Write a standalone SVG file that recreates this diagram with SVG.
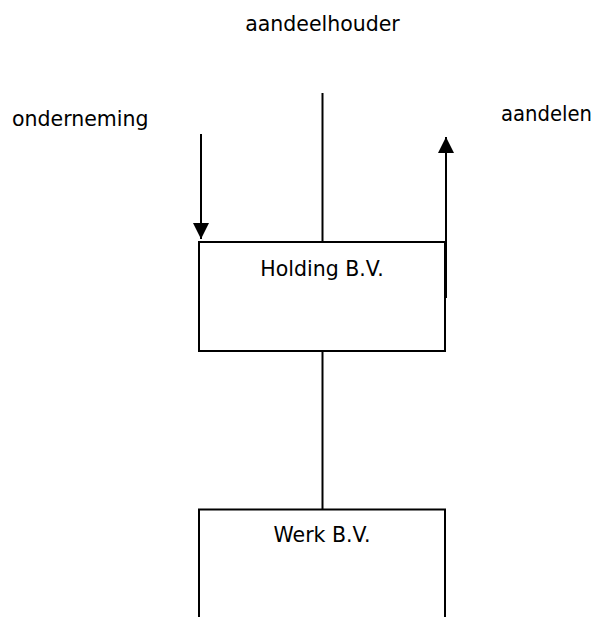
<svg xmlns="http://www.w3.org/2000/svg" width="596" height="617" viewBox="0 0 596 617">
<style>
text{font-family:"DejaVu Sans",Verdana,sans-serif;font-size:20.5px;fill:#000}
.ln{stroke:#000;stroke-width:2;fill:none}
.box{stroke:#000;stroke-width:2;fill:#fff}
</style>
<defs>
<marker id="ah" viewBox="0 0 16 16" refX="16" refY="8" markerWidth="16" markerHeight="16" markerUnits="userSpaceOnUse" orient="auto"><path d="M0,0 L16,8 L0,16 Z" fill="#000"/></marker>
</defs>
<g id="labels">
<text x="322.5" y="31" text-anchor="middle">aandeelhouder</text>
<text x="12" y="126">onderneming</text>
<text x="501" y="121" textLength="91" lengthAdjust="spacingAndGlyphs">aandelen</text>
</g>
<g id="connectors">
<line class="ln" x1="322.5" y1="93" x2="322.5" y2="242"/>
<line class="ln" x1="201" y1="134" x2="201" y2="239" marker-end="url(#ah)"/>
<line class="ln" x1="446" y1="298" x2="446" y2="137" marker-end="url(#ah)"/>
<line class="ln" x1="322.5" y1="351" x2="322.5" y2="509"/>
</g>
<g id="holding">
<rect class="box" x="199" y="242" width="246" height="109"/>
<text x="322" y="276" text-anchor="middle">Holding B.V.</text>
</g>
<line class="ln" x1="446" y1="242" x2="446" y2="298"/>
<g id="werk">
<path class="box" d="M199,617 L199,509.5 L445,509.5 L445,617"/>
<text x="322" y="542" text-anchor="middle">Werk B.V.</text>
</g>
</svg>
